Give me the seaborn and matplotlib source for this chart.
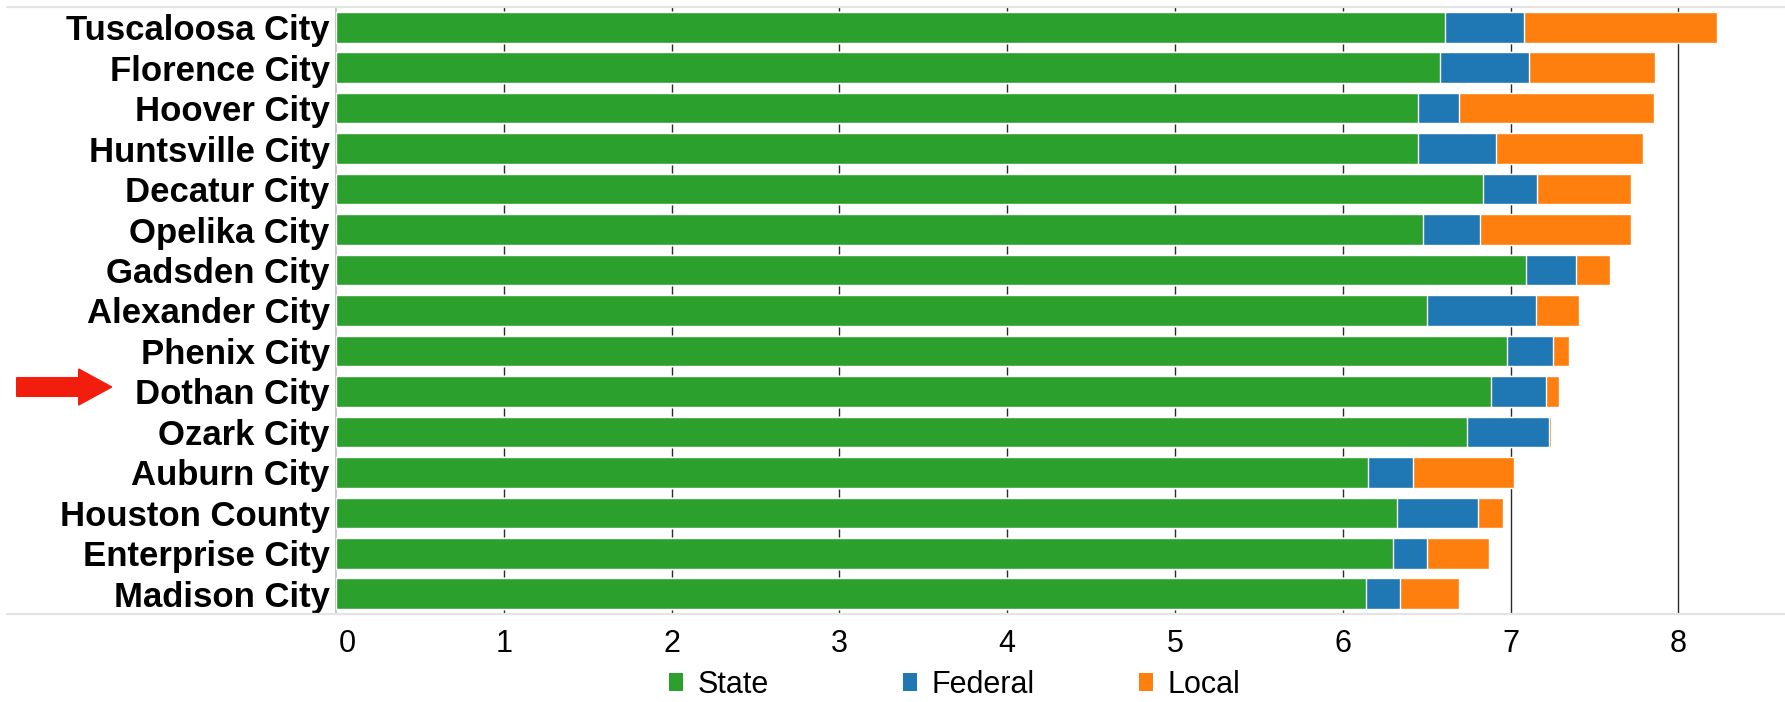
import matplotlib
matplotlib.use("Agg")
import matplotlib.pyplot as plt
import matplotlib.transforms as mtransforms
import seaborn as sns
import pandas as pd
import numpy as np
from matplotlib.patches import Patch, FancyArrow
from matplotlib.lines import Line2D

# ---- data ----
districts = ["Tuscaloosa City", "Florence City", "Hoover City", "Huntsville City",
             "Decatur City", "Opelika City", "Gadsden City", "Alexander City",
             "Phenix City", "Dothan City", "Ozark City", "Auburn City",
             "Houston County", "Enterprise City", "Madison City"]
state = [6.61, 6.58, 6.45, 6.45, 6.835, 6.48, 7.09, 6.50,
         6.98, 6.88, 6.74, 6.15, 6.32, 6.30, 6.14]
federal = [0.47, 0.53, 0.245, 0.46, 0.32, 0.34, 0.30, 0.65,
           0.275, 0.33, 0.49, 0.27, 0.485, 0.20, 0.20]
local = [1.15, 0.75, 1.16, 0.88, 0.56, 0.90, 0.20, 0.26,
         0.095, 0.08, 0.012, 0.60, 0.15, 0.37, 0.35]
series_names = ["State", "Federal", "Local"]
series_colors = ["#2ca02c", "#1f77b4", "#ff7f0e"]
highlight = "Dothan City"

sns.set_style("white")
plt.rcParams["font.family"] = ["Liberation Sans", "DejaVu Sans"]
plt.rcParams["text.color"] = "black"
plt.rcParams["xtick.labelcolor"] = "black"
plt.rcParams["ytick.labelcolor"] = "black"

df = pd.DataFrame({"district": districts, "State": state,
                   "Federal": federal, "Local": local})
df["c_state"] = df["State"]
df["c_fed"] = df["State"] + df["Federal"]
df["c_local"] = df["c_fed"] + df["Local"]

W, H = 1785, 702
fig = plt.figure(figsize=(W / 100, H / 100), dpi=100)
x0px, top_px, bot_px = 336, 7, 614
ax = fig.add_axes([x0px / W, 1 - bot_px / H, 1 - x0px / W, (bot_px - top_px) / H])

# stacked bars drawn back to front
for col, c in [("c_local", series_colors[2]), ("c_fed", series_colors[1]),
               ("c_state", series_colors[0])]:
    sns.barplot(data=df, x=col, y="district", order=districts, color=c,
                saturation=1, errorbar=None, width=0.757, ax=ax, zorder=3)

ax.set_xlim(0, 8.635)
ax.set_ylim(14.5, -0.5)
ax.set_xlabel("")
ax.set_ylabel("")
ax.set_xticks(range(0, 9))
ax.set_axisbelow(True)
ax.grid(axis="x", color="#2a2a2a", lw=1.0, zorder=0)
ax.grid(axis="y", visible=False)
ax.xaxis.get_gridlines()[0].set_visible(False)

for s in ["top", "right", "bottom"]:
    ax.spines[s].set_visible(False)
ax.spines["left"].set_color("#bbbbbb")
ax.spines["left"].set_linewidth(1.2)

ax.tick_params(axis="x", length=5, color="#cccccc", width=1, labelsize=22,
               pad=5.5, labelcolor="black")
ax.tick_params(axis="y", length=0, pad=4.5, labelsize=25, labelcolor="black")
for lbl in ax.get_yticklabels():
    lbl.set_fontweight("bold")
    lbl.set_color("black")

# first x tick label sits slightly right of the axis line
first = ax.get_xticklabels()[0]
first.set_transform(first.get_transform() +
                    mtransforms.ScaledTranslation(0.11, 0, fig.dpi_scale_trans))

# light horizontal rules at top and bottom of the plot area
for ypx in (top_px, bot_px):
    fig.add_artist(Line2D([7 / W, 1.0], [1 - ypx / H] * 2, transform=fig.transFigure,
                          color="#e4e4e4", lw=1.6))

# legend, one entry per fixed-width column
leg_x = [669, 903, 1139]
for name, c, xp in zip(series_names, series_colors, leg_x):
    lg = fig.legend(handles=[Patch(facecolor=c, edgecolor="none")], labels=[name],
                    loc="center left", bbox_to_anchor=(xp / W, (H - 685) / H),
                    frameon=False, fontsize=22, handlelength=0.47, handleheight=0.5,
                    handletextpad=0.45, borderpad=0, borderaxespad=0,
                    labelcolor="black")

# red arrow pointing at highlighted district
arrow_y_in = (H - 387) / 100
fig.patches.append(FancyArrow(0.167, arrow_y_in, 0.95, 0, width=0.187,
                              head_width=0.36, head_length=0.33,
                              length_includes_head=True, color="#f21d0d",
                              transform=fig.dpi_scale_trans, figure=fig))

fig.savefig("out.png", dpi=100)
